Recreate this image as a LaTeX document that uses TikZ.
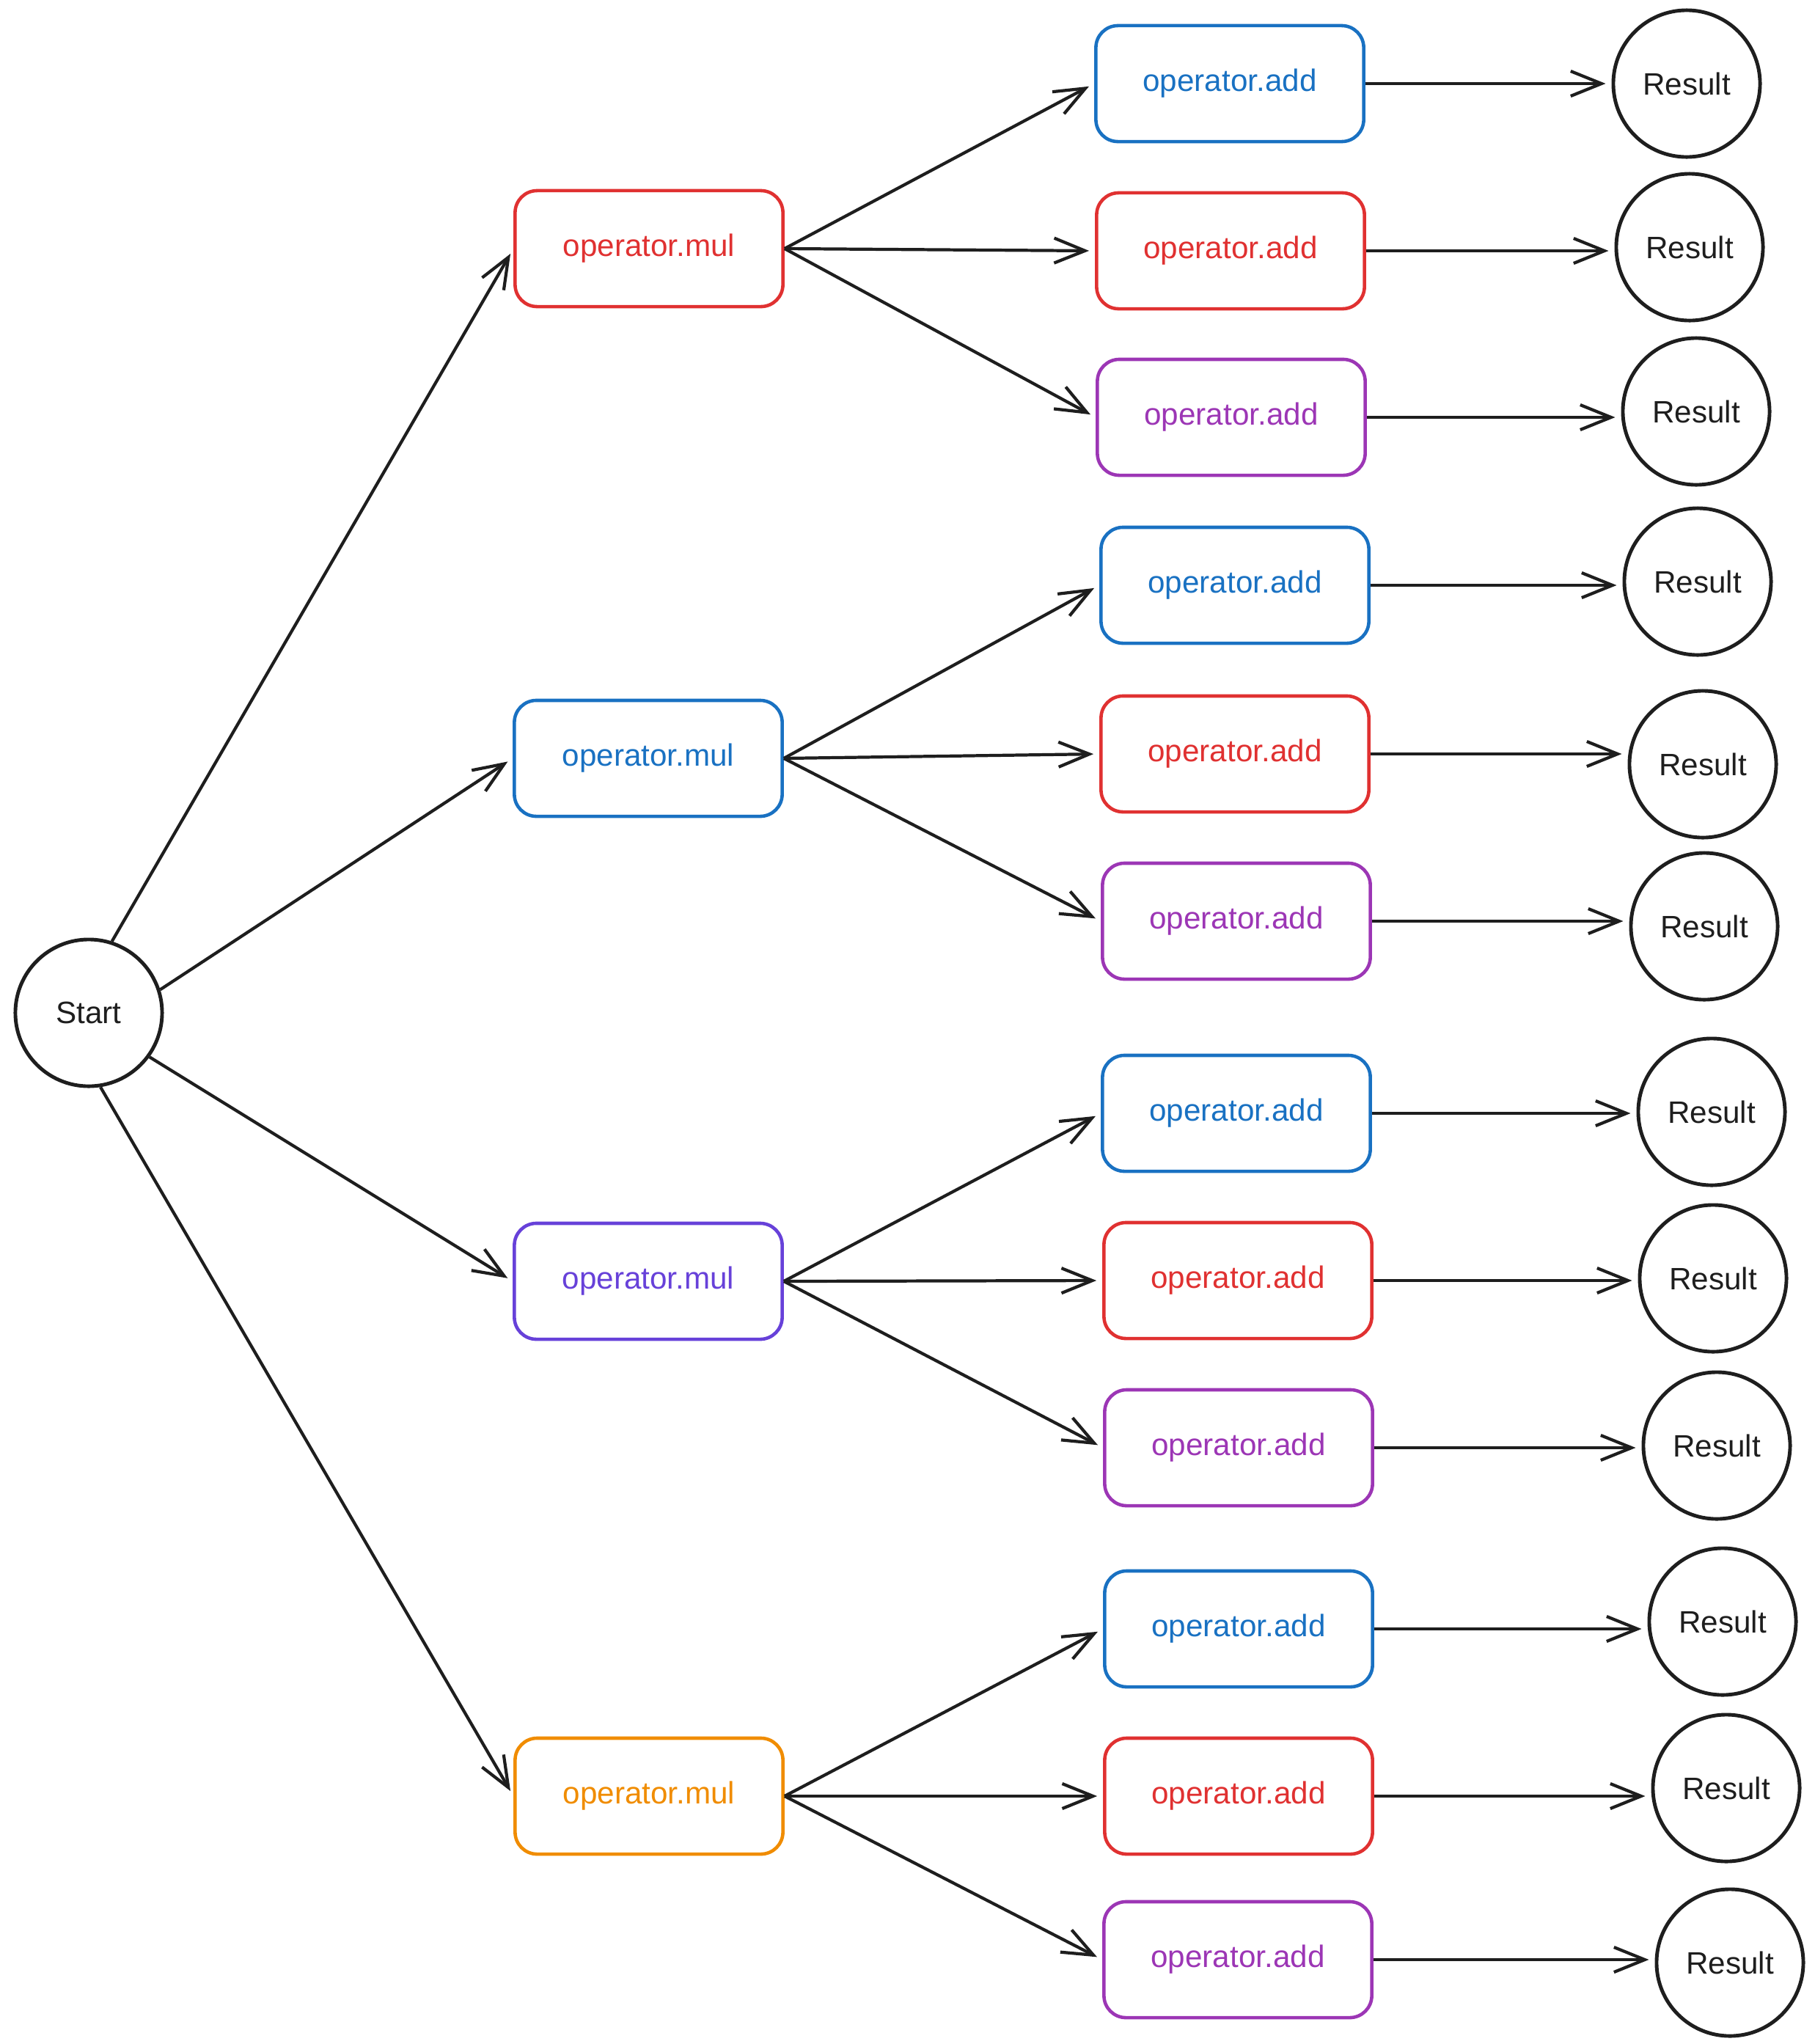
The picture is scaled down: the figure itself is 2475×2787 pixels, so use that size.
\documentclass[tikz,border=0pt]{standalone}
\usepackage{fontspec}
\setmainfont{Liberation Sans}
\usetikzlibrary{arrows.meta}
\definecolor{ink}{HTML}{1E1E1E}
\definecolor{cred}{HTML}{E03131}
\definecolor{cblue}{HTML}{1971C2}
\definecolor{cpurple}{HTML}{9C36B5}
\definecolor{cviolet}{HTML}{6741D9}
\definecolor{corange}{HTML}{F08C00}
\tikzset{
  opbox/.style={draw=#1, text=#1, line width=1.3pt, rounded corners=0.3cm,
    minimum width=3.65cm, minimum height=1.58cm, inner sep=0pt,
    font=\fontsize{12pt}{14pt}\selectfont},
  endcirc/.style={draw=ink, text=ink, circle, line width=1.4pt, minimum size=2cm,
    inner sep=0pt, font=\fontsize{12pt}{14pt}\selectfont},
  flow/.style={draw=ink, line width=1.2pt,
    -{Straight Barb[length=0.42cm,width=0.34cm,line width=1.2pt]}, shorten >=0.08cm}
}
\begin{document}
\begin{tikzpicture}[x=0.01cm,y=-0.01cm]
\useasboundingbox (0,0) rectangle (2475,2787);
\node[endcirc] (start) at (121,1381) {Start};
\node[opbox=cred] (m1) at (885,339) {operator.mul};
\node[opbox=cblue] (m2) at (884,1034) {operator.mul};
\node[opbox=cviolet] (m3) at (884,1747) {operator.mul};
\node[opbox=corange] (m4) at (885,2449) {operator.mul};

\node[opbox=cblue] (a1) at (1677,114) {operator.add};
\node[opbox=cred] (a2) at (1678,342) {operator.add};
\node[opbox=cpurple] (a3) at (1679,569) {operator.add};
\node[opbox=cblue] (a4) at (1684,798) {operator.add};
\node[opbox=cred] (a5) at (1684,1028) {operator.add};
\node[opbox=cpurple] (a6) at (1686,1256) {operator.add};
\node[opbox=cblue] (a7) at (1686,1518) {operator.add};
\node[opbox=cred] (a8) at (1688,1746) {operator.add};
\node[opbox=cpurple] (a9) at (1689,1974) {operator.add};
\node[opbox=cblue] (a10) at (1689,2221) {operator.add};
\node[opbox=cred] (a11) at (1689,2449) {operator.add};
\node[opbox=cpurple] (a12) at (1688,2672) {operator.add};

\node[endcirc] (r1) at (2300,114) {Result};
\node[endcirc] (r2) at (2304,337) {Result};
\node[endcirc] (r3) at (2313,561) {Result};
\node[endcirc] (r4) at (2315,793) {Result};
\node[endcirc] (r5) at (2322,1042) {Result};
\node[endcirc] (r6) at (2324,1263) {Result};
\node[endcirc] (r7) at (2334,1516) {Result};
\node[endcirc] (r8) at (2336,1743) {Result};
\node[endcirc] (r9) at (2341,1971) {Result};
\node[endcirc] (r10) at (2349,2211) {Result};
\node[endcirc] (r11) at (2354,2438) {Result};
\node[endcirc] (r12) at (2359,2676) {Result};

\draw[flow] (start.72) -- (m1.west);
\draw[flow] (start.18) -- (m2.west);
\draw[flow] (start.-36) -- (m3.west);
\draw[flow] (start.-81) -- (m4.west);
\draw[flow] (m1.east) -- (a1.west);
\draw[flow] (m1.east) -- (a2.west);
\draw[flow] (m1.east) -- (a3.west);
\draw[flow] (m2.east) -- (a4.west);
\draw[flow] (m2.east) -- (a5.west);
\draw[flow] (m2.east) -- (a6.west);
\draw[flow] (m3.east) -- (a7.west);
\draw[flow] (m3.east) -- (a8.west);
\draw[flow] (m3.east) -- (a9.west);
\draw[flow] (m4.east) -- (a10.west);
\draw[flow] (m4.east) -- (a11.west);
\draw[flow] (m4.east) -- (a12.west);
\foreach \i in {1,...,12}{\draw[flow] (a\i.east) -- (a\i.east -| r\i.west);}
\end{tikzpicture}
\end{document}
